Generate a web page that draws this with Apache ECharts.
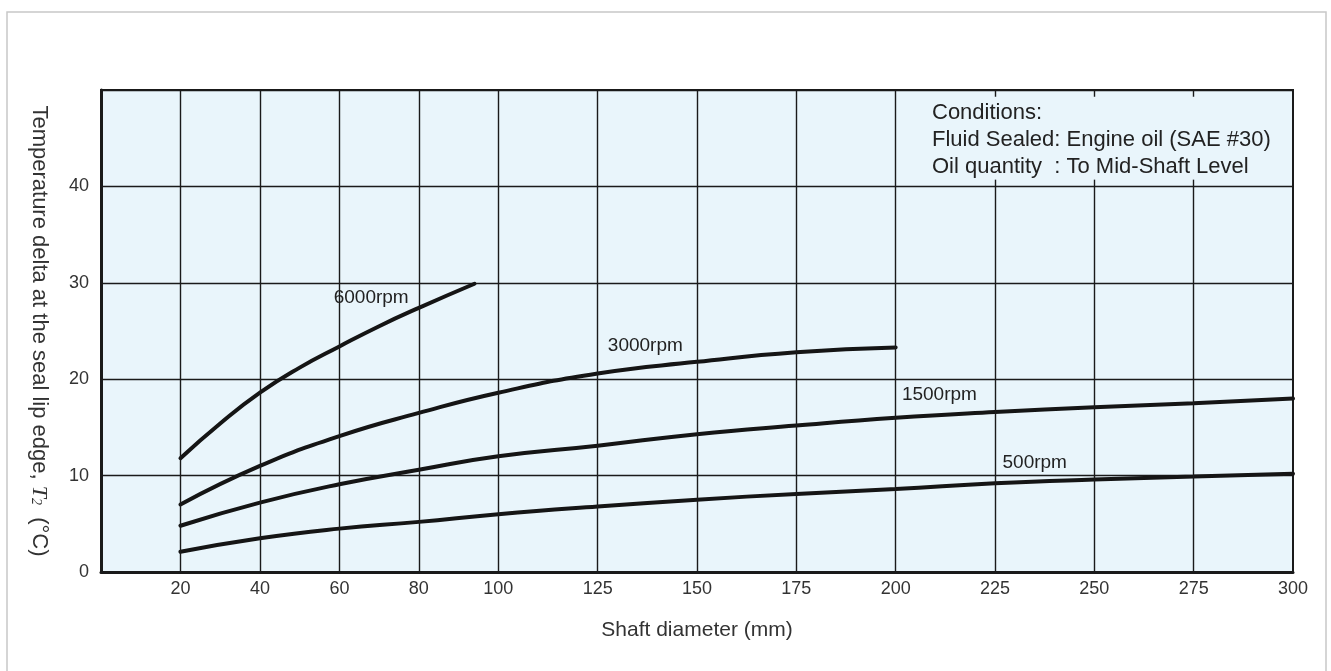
<!DOCTYPE html>
<html>
<head>
<meta charset="utf-8">
<script src="https://cdn.jsdelivr.net/npm/echarts@6/dist/echarts.min.js"></script>
<style>
  html, body { margin: 0; padding: 0; background: #fff; }
  #chart { width: 1331px; height: 671px; }
</style>
</head>
<body>
<div id="chart"></div>
<script type="text/javascript">
    // shaft diameter (mm) / temperature delta (C)
    var x6000 = [20, 30, 40, 50, 60, 70, 80, 94];
    var t6000 = [11.8, 15.4, 18.6, 21.2, 23.4, 25.5, 27.4, 29.9];
    var x3000 = [20, 40, 60, 80, 100, 125, 150, 175, 200];
    var t3000 = [7.0, 11.0, 14.1, 16.5, 18.6, 20.6, 21.8, 22.8, 23.3];
    var x1500 = [20, 40, 60, 80, 100, 125, 150, 175, 200, 225, 250, 275, 300];
    var t1500 = [4.8, 7.2, 9.1, 10.6, 12.0, 13.1, 14.3, 15.2, 16.0, 16.6, 17.1, 17.5, 18.0];
    var x500 = [20, 40, 60, 80, 100, 125, 150, 175, 200, 225, 250, 275, 300];
    var t500 = [2.1, 3.5, 4.5, 5.2, 6.0, 6.8, 7.5, 8.1, 8.6, 9.2, 9.6, 9.9, 10.2];

    var xTicks = [20, 40, 60, 80, 100, 125, 150, 175, 200, 225, 250, 275, 300];
    var yMax = 50;
    var boxFrom = 200;   // grid lines right of this are hidden behind the conditions note
    var boxBottom = 40;

    // curve labels: [name, x, y]
    var curveLabels = [
        ['6000rpm', 68, 28.4],
        ['3000rpm', 137, 23.5],
        ['1500rpm', 211, 18.4],
        ['500rpm', 235, 11.3]
    ];

    var FONT = 'Liberation Sans, Arial, sans-serif';

    function pairs(xs, ys) {
        var out = [];
        for (var i = 0; i < xs.length; i++) out.push([xs[i], ys[i]]);
        return out;
    }

    function gridLines() {
        var segs = [];
        xTicks.forEach(function (x) {
            if (x >= 300) return;
            if (x <= boxFrom) {
                segs.push([{coord: [x, 0]}, {coord: [x, yMax]}]);
            } else {
                segs.push([{coord: [x, 0]}, {coord: [x, boxBottom]}]);
                segs.push([{coord: [x, boxBottom]}, {coord: [x, boxBottom + 0.7]}]);
                segs.push([{coord: [x, yMax - 0.7]}, {coord: [x, yMax]}]);
            }
        });
        return segs;
    }

    function curve(name, xs, ys) {
        var lbl = curveLabels.filter(function (c) { return c[0] === name; })[0];
        return {
            name: name,
            type: 'line',
            data: pairs(xs, ys),
            smooth: 0.5,
            symbol: 'none',
            z: 3,
            lineStyle: { color: '#151515', width: 4, cap: 'round' },
            markPoint: {
                symbol: 'rect',
                symbolSize: 1,
                itemStyle: { color: 'transparent' },
                label: {
                    show: true, position: 'inside', color: '#222',
                    fontSize: 19, fontFamily: FONT,
                    formatter: function (p) { return p.name; }
                },
                data: [{ name: lbl[0], coord: [lbl[1], lbl[2]] }]
            }
        };
    }

    var chart = echarts.init(document.getElementById('chart'));
    chart.setOption({
        animation: false,
        backgroundColor: '#ffffff',
        textStyle: { fontFamily: FONT },
        grid: {
            left: 101, right: 38, top: 90, bottom: 99,
            show: true, backgroundColor: '#e9f5fb',
            borderColor: '#1a1a1a', borderWidth: 2
        },
        xAxis: {
            type: 'value', min: 0, max: 300,
            name: 'Shaft diameter (mm)',
            nameLocation: 'middle', nameGap: 48,
            nameTextStyle: { fontSize: 21, color: '#333' },
            axisLine: { lineStyle: { color: '#1a1a1a', width: 3 } },
            axisTick: { show: false },
            splitLine: { show: false },
            axisLabel: { customValues: xTicks, fontSize: 18, color: '#333', margin: 8 }
        },
        yAxis: {
            type: 'value', min: 0, max: yMax, interval: 10,
            name: '{n|Temperature delta at the seal lip edge, }{it|T}{sub|2}{n|  (°C)}',
            nameLocation: 'middle', nameGap: 51, nameRotate: -90,
            nameTextStyle: {
                rich: {
                    n: { fontSize: 22, color: '#333' },
                    it: { fontSize: 22, color: '#333', fontStyle: 'italic', fontFamily: 'Liberation Serif, serif' },
                    sub: { fontSize: 14, color: '#333', fontStyle: 'italic', fontFamily: 'Liberation Serif, serif', padding: [7, 0, 0, 0] }
                }
            },
            axisLine: { show: true, lineStyle: { color: '#1a1a1a', width: 3 } },
            axisTick: { show: false },
            splitLine: { lineStyle: { color: '#1a1a1a', width: 1.4 } },
            axisLabel: {
                fontSize: 18, color: '#333', margin: 12,
                formatter: function (v) { return v === yMax ? '' : v; }
            }
        },
        graphic: [
            {
                type: 'rect', silent: true, z: -1,
                shape: { x: 7, y: 12, width: 1319, height: 700 },
                style: { fill: 'none', stroke: '#c8c8c8', lineWidth: 1.5 }
            },
            {
                type: 'text', left: 932, top: 99, silent: true,
                style: {
                    text: 'Conditions:\nFluid Sealed: Engine oil (SAE #30)\nOil quantity  : To Mid-Shaft Level',
                    fontSize: 22, lineHeight: 27, fill: '#222',
                    fontFamily: FONT
                }
            }
        ],
        series: [
            {
                name: 'grid',
                type: 'line',
                data: [],
                z: 1,
                silent: true,
                markLine: {
                    silent: true,
                    symbol: ['none', 'none'],
                    label: { show: false },
                    lineStyle: { color: '#1a1a1a', width: 1.4, type: 'solid' },
                    data: gridLines()
                }
            },
            curve('6000rpm', x6000, t6000),
            curve('3000rpm', x3000, t3000),
            curve('1500rpm', x1500, t1500),
            curve('500rpm', x500, t500)
        ]
    });
</script>
</body>
</html>
